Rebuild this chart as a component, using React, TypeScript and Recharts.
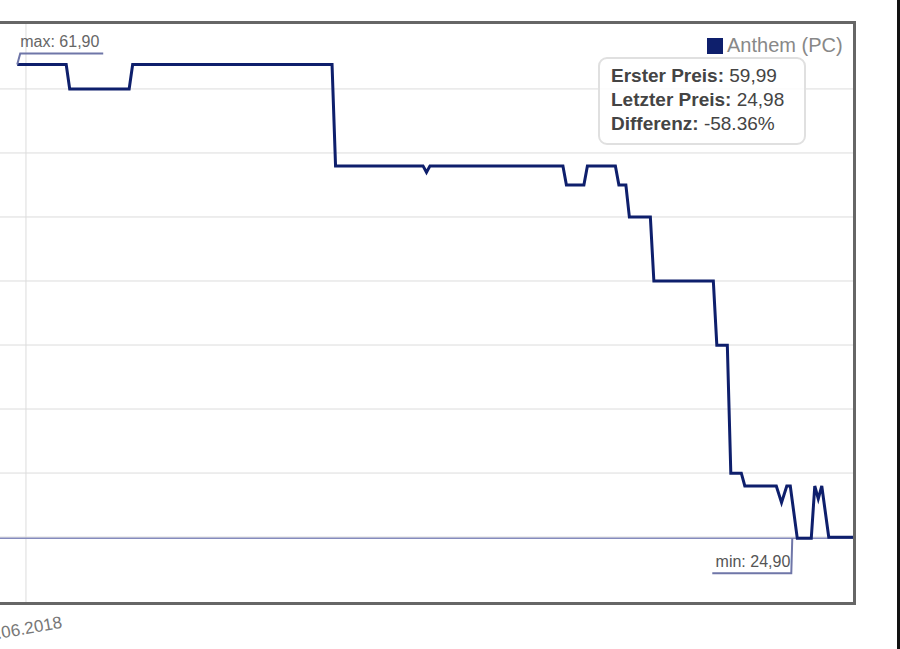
import React from "react";

import {
  CartesianGrid,
  Line,
  LineChart,
  ReferenceDot,
  ReferenceLine,
  XAxis,
  YAxis,
} from "recharts";

// days since the first visible price point
const DAYS = [
  0, 14, 15, 32, 33, 90, 91, 116, 117, 118, 156, 157, 162, 163, 171, 172, 174,
  175, 181, 182, 199, 200, 203, 204, 207, 208, 217, 218.5, 220, 221, 223, 227,
  228, 229, 230, 232, 239,
];

const PRICES = [
  61.9, 61.9, 59.99, 59.99, 61.9, 61.9, 53.99, 53.99, 53.49, 53.99, 53.99,
  52.49, 52.49, 53.99, 53.99, 52.49, 52.49, 49.99, 49.99, 44.99, 44.99, 39.99,
  39.99, 29.99, 29.99, 28.99, 28.99, 27.69, 28.99, 28.99, 24.9, 24.9, 28.99,
  27.99, 28.99, 24.98, 24.98,
];

const X_TICKS = [2.5];
const X_TICK_LABELS = ["10.06.2018"];
const Y_GRID = [25, 30, 35, 40, 45, 50, 55, 60];

const SERIES_NAME = "Anthem (PC)";
const FIRST_PRICE = 59.99;
const LAST_PRICE = 24.98;
const MAX_PRICE = 61.9;
const MAX_DAY = 0;
const MIN_PRICE = 24.9;
const MIN_DAY = 223;

const LINE_COLOR = "#0e1f6c";
const FONT = "Liberation Sans, Arial, sans-serif";

const fmt = (v: number) => v.toFixed(2).replace(".", ",");

const data = DAYS.map((day, i) => ({ day, price: PRICES[i] }));

const DateTick = (props: any) => {
  const { x, y, index } = props;
  const tx = x - 5;
  const ty = y + 24;
  return (
    <text
      x={tx}
      y={ty}
      transform={`rotate(-10, ${tx}, ${ty})`}
      textAnchor="middle"
      fontSize={17}
      fill="#777"
      fontFamily={FONT}
    >
      {X_TICK_LABELS[index]}
    </text>
  );
};

const MaxCallout = (props: any) => {
  const { cx, cy } = props;
  return (
    <g>
      <polyline
        points={`${cx},${cy} ${cx + 3},${cy - 11} ${cx + 86},${cy - 11}`}
        fill="none"
        stroke="#6f76a8"
        strokeWidth={2}
      />
      <text x={cx + 3} y={cy - 18} fontSize={16} fill="#666" fontFamily={FONT}>
        max: {fmt(MAX_PRICE)}
      </text>
    </g>
  );
};

const MinCallout = (props: any) => {
  const { cx, cy } = props;
  return (
    <g>
      <polyline
        points={`${cx - 5},${cy} ${cx - 6},${cy + 35} ${cx - 85},${cy + 35}`}
        fill="none"
        stroke="#6f76a8"
        strokeWidth={2}
      />
      <text
        x={cx - 7}
        y={cy + 29}
        textAnchor="end"
        fontSize={16}
        fill="#555"
        fontFamily={FONT}
      >
        min: {fmt(MIN_PRICE)}
      </text>
    </g>
  );
};

const SummaryBox = () => {
  const diff = ((LAST_PRICE - FIRST_PRICE) / FIRST_PRICE) * 100;
  const rows = [
    ["Erster Preis:", fmt(FIRST_PRICE)],
    ["Letzter Preis:", fmt(LAST_PRICE)],
    ["Differenz:", diff.toFixed(2) + "%"],
  ];
  return (
    <div
      style={{
        position: "absolute",
        left: 598,
        top: 57,
        width: 189,
        padding: "5px 4px 7px 11px",
        border: "2px solid #e0e0e0",
        borderRadius: 9,
        background: "rgba(255,255,255,0.85)",
        fontFamily: FONT,
        fontSize: 19,
        lineHeight: "24px",
        color: "#444",
        whiteSpace: "nowrap",
      }}
    >
      {rows.map(([label, value]) => (
        <div key={label}>
          <b>{label}</b> {value}
        </div>
      ))}
    </div>
  );
};

const LegendItem = () => (
  <div
    style={{
      position: "absolute",
      left: 707,
      top: 34,
      display: "flex",
      alignItems: "center",
      fontFamily: FONT,
      fontSize: 20,
      color: "#888",
    }}
  >
    <span
      style={{
        display: "inline-block",
        width: 16,
        height: 16,
        background: LINE_COLOR,
        marginRight: 4,
      }}
    />
    {SERIES_NAME}
  </div>
);

export default function App() {
  return (
    <div
      style={{
        position: "absolute",
        left: 0,
        top: 0,
        width: 900,
        height: 649,
        overflow: "hidden",
        background: "#fff",
      }}
    >
      <div style={{ marginLeft: -40 }}>
        <LineChart
          width={940}
          height={649}
          data={data}
          margin={{ top: 23, right: 45, bottom: 16, left: 10 }}
        >
          <CartesianGrid
            stroke="#dcdcdc"
            horizontalValues={Y_GRID}
            verticalValues={X_TICKS}
          />
          <XAxis
            dataKey="day"
            type="number"
            domain={[-13.5, 239.5]}
            ticks={X_TICKS}
            tick={<DateTick />}
            axisLine={false}
            tickLine={false}
            height={30}
            allowDataOverflow
          />
          <YAxis
            hide
            type="number"
            domain={[19.85, 65.15]}
            ticks={Y_GRID}
            allowDataOverflow
          />
          <ReferenceLine y={MIN_PRICE} stroke="#858bbd" strokeWidth={1.5} />
          <Line
            type="linear"
            dataKey="price"
            stroke={LINE_COLOR}
            strokeWidth={3}
            dot={false}
            isAnimationActive={false}
          />
          <ReferenceDot
            x={MAX_DAY}
            y={MAX_PRICE}
            r={0}
            shape={<MaxCallout />}
          />
          <ReferenceDot
            x={MIN_DAY}
            y={MIN_PRICE}
            r={0}
            shape={<MinCallout />}
          />
        </LineChart>
      </div>
      {/* plot frame, its left side lies outside the crop */}
      <div
        style={{
          position: "absolute",
          left: -6,
          top: 21,
          width: 862,
          height: 584,
          boxSizing: "border-box",
          border: "3px solid #666",
          pointerEvents: "none",
        }}
      />
      <LegendItem />
      <SummaryBox />
      <div
        style={{
          position: "absolute",
          left: 897,
          top: 0,
          width: 3,
          height: 649,
          background: "#111",
        }}
      />
    </div>
  );
}
